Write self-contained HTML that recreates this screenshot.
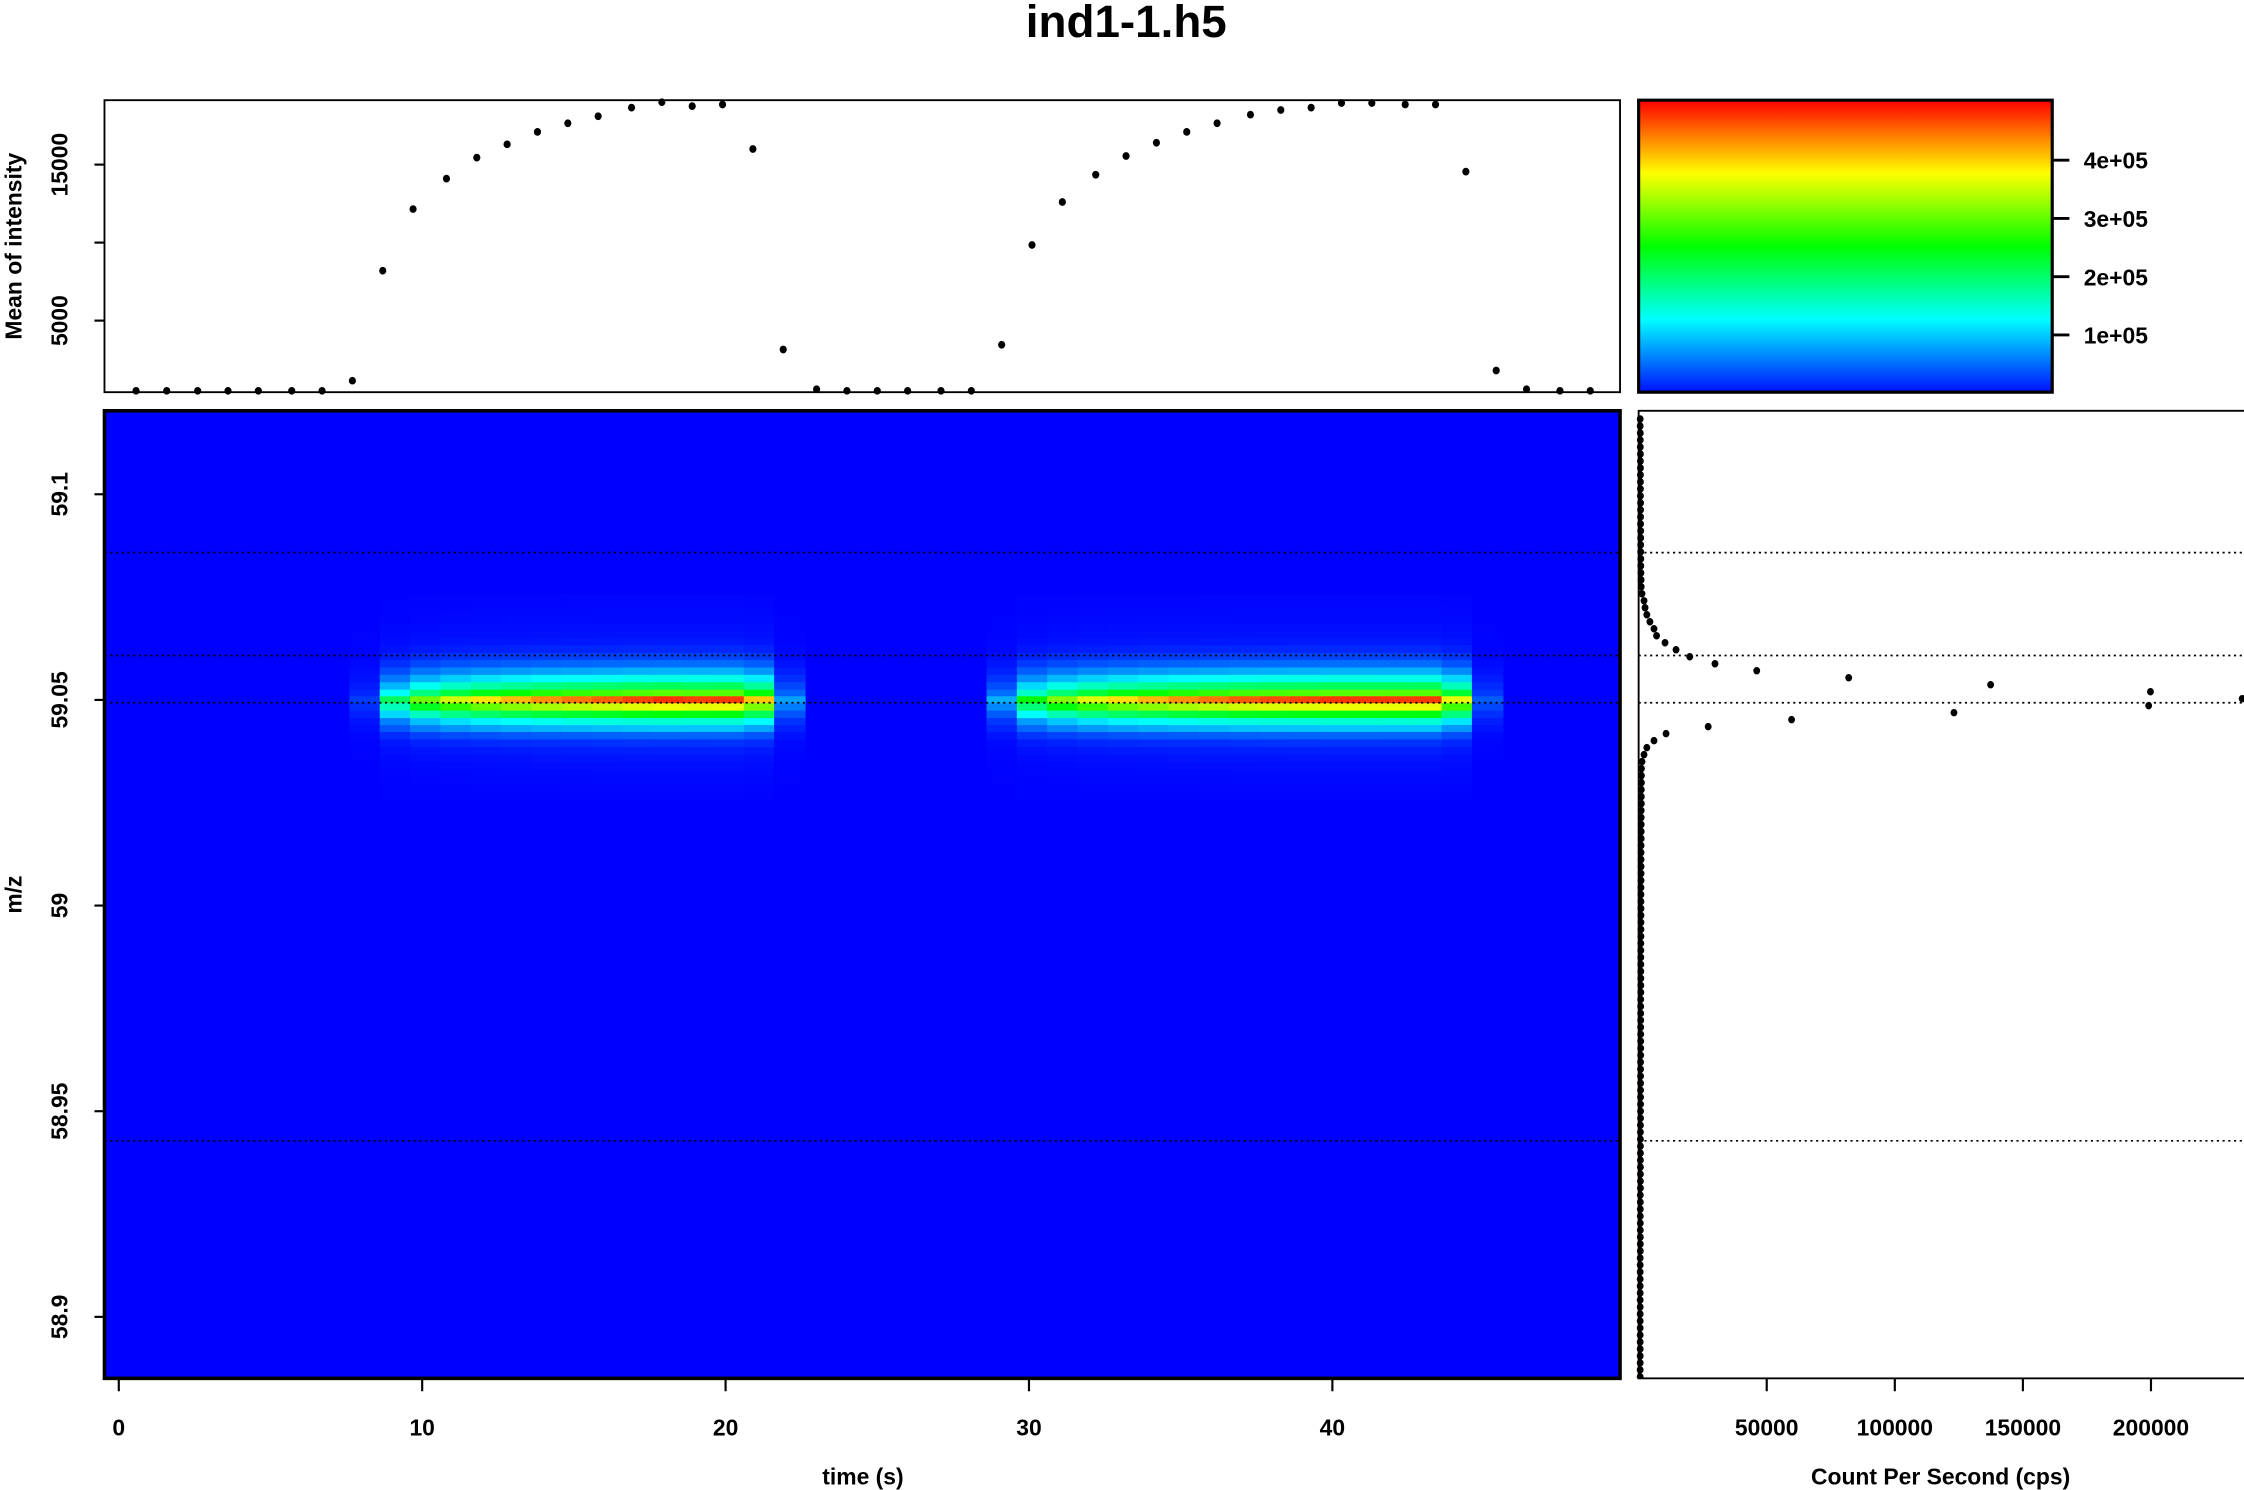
<!DOCTYPE html>
<html><head><meta charset="utf-8"><style>
html,body{margin:0;padding:0;background:#fff;}
svg{display:block;font-family:"Liberation Sans",Arial,sans-serif;font-weight:bold;}
</style></head><body>
<svg id="chart" width="2244" height="1490" viewBox="0 0 1568 1041" preserveAspectRatio="none" xmlns="http://www.w3.org/2000/svg">
<defs>
<linearGradient id="jet" x1="0" y1="1" x2="0" y2="0">
<stop offset="0" stop-color="#0010ff"/><stop offset="0.25" stop-color="#00ffff"/><stop offset="0.5" stop-color="#00ff00"/><stop offset="0.75" stop-color="#ffff00"/><stop offset="1" stop-color="#ff0000"/>
</linearGradient>
<clipPath id="hmclip"><rect x="73" y="287" width="1059" height="676"/></clipPath>
<clipPath id="rpclip"><rect x="1140" y="287" width="430" height="676"/></clipPath>
</defs>
<text x="787" y="26" font-size="32" text-anchor="middle">ind1-1.h5</text>
<g id="topPanel"></g>
<g id="cbar"></g>
<g id="heat"></g>
<g id="spec"></g>
</svg>
<script>
// ---- data ----
const times = [0.57,1.58,2.6,3.6,4.6,5.7,6.7,7.7,8.7,9.7,10.8,11.8,12.8,13.8,14.8,15.8,16.9,17.9,18.9,19.9,20.9,21.9,23.0,24.0,25.0,26.0,27.1,28.1,29.1,30.1,31.1,32.2,33.2,34.2,35.2,36.2,37.3,38.3,39.3,40.3,41.3,42.4,43.4,44.4,45.4,46.4,47.5,48.5];
const heatStart = [0.6,1.6,2.6,3.6,4.6,5.6,6.6,7.6,8.6,9.6,10.6,11.6,12.6,13.6,14.6,15.6,16.6,17.6,18.6,19.6,20.6,21.6,22.6,23.6,24.6,25.6,26.6,27.6,28.6,29.6,30.6,31.6,32.6,33.6,34.6,35.6,36.6,37.6,38.6,39.6,40.6,41.6,42.6,43.6,44.6,45.6,46.6,47.6];
const meanIntensity = [500,500,500,500,500,500,500,1150,8200,12150,14100,15450,16300,17100,17650,18100,18650,19000,18750,18850,16000,3150,600,500,500,500,500,500,3450,9850,12600,14350,15550,16400,17100,17650,18200,18500,18650,18950,18950,18850,18850,14550,1800,600,500,500];
const rowMz = [59.0747,59.0729,59.0711,59.0694,59.0676,59.0658,59.0641,59.0624,59.0605,59.0588,59.0570,59.0552,59.0534,59.0516,59.0500,59.0483,59.0465,59.0447,59.0430,59.0413,59.0395,59.0376,59.0358,59.0340,59.0322,59.0304,59.0286,59.0268];
const rowProfile = [0.005,0.006,0.008,0.01,0.013,0.018,0.025,0.04,0.07,0.11,0.18,0.28,0.42,0.6,0.97,0.75,0.5,0.3,0.2,0.1,0.05,0.03,0.02,0.014,0.01,0.008,0.006,0.005];
const peakCps = 490000;
const dottedMz = [59.0858,59.0608,59.0493,58.9428];
const specCps = [600,600,650,650,650,700,700,700,700,700,700,700,750,750,750,750,800,800,800,800,850,850,900,950,1000,1300,2100,2500,3200,4400,6000,7000,10300,14600,19950,29800,46100,82000,137400,199800,235600,199100,123100,59700,27150,10700,6000,3200,2100,1300,1100,1100,1100,1050,1050,1050,1000,1000,1000,1000,1000,950,950,950,950,950,950,900,900,900,900,900,900,900,900,850,850,850,850,850,850,850,850,800,800,800,800,800,800,800,800,800,750,750,750,750,750,750,750,750,750,700,700,700,700,700,700,700,700,700,700,650,650,650,650,650,650,650,650,650,600,600,600,600,600,600,600,600,600,600,600,600,600,600,600,600,600,600];
const specMzTop = 59.1183, specMzStep = 0.0017;
const xTicks = [0,10,20,30,40];
const mzTicks = [59.1,59.05,59,58.95,58.9];
const mzTickLabels = ["59.1","59.05","59","58.95","58.9"];
const meanTicks = [5000,10000,15000];
const meanTickLabels = ["5000","","15000"];
const cbarTicks = [100000,200000,300000,400000];
const cbarTickLabels = ["1e+05","2e+05","3e+05","4e+05"];
const cpsTicks = [50000,100000,150000,200000];
const cpsTickLabels = ["50000","100000","150000","200000"];

// ---- scales ----
const X = t => 83 + 21.2*t;
const Ymz = m => 489 - (m-59.05)/0.000348;
const Ymean = v => 224 - (v-5000)*0.0109;
const Xcps = v => 1145 + v*0.00179;
const Ycb = v => 274.7 - v*0.000407;
const NS='http://www.w3.org/2000/svg';
function mk(tag, attrs, parent, txt){const e=document.createElementNS(NS,tag);for(const k in attrs)e.setAttribute(k,attrs[k]);if(txt!==undefined)e.textContent=txt;parent.appendChild(e);return e;}
function jet(v){v=Math.max(0,Math.min(1,v));const st=[[0,0,0,255],[0.25,0,255,255],[0.5,0,255,0],[0.75,255,255,0],[1,255,0,0]];
for(let i=0;i<4;i++){if(v<=st[i+1][0]){const f=(v-st[i][0])/(st[i+1][0]-st[i][0]);return 'rgb('+[1,2,3].map(j=>Math.round(st[i][j]+f*(st[i+1][j]-st[i][j]))).join(',')+')';}}return 'rgb(255,0,0)';}

// ---- top panel ----
const topG=document.getElementById('topPanel');
const tfr=mk('rect',{x:73,y:70,width:1059,height:204,fill:'none',stroke:'#000','stroke-width':1.3},topG);


meanTicks.forEach((v,i)=>{const y=Ymean(v);
 const l=mk('line',{x1:66,x2:73,y1:y,y2:y,stroke:'#000','stroke-width':1.5},topG);
 
 
 if(meanTickLabels[i]){const t=mk('text',{x:0,y:0,'font-size':16,'text-anchor':'middle',transform:`translate(47,${y}) rotate(-90)`},topG,meanTickLabels[i]);
 
 }
});
const yl=mk('text',{'font-size':16,'text-anchor':'middle',transform:'translate(15,172) rotate(-90)'},topG,'Mean of intensity');


times.forEach((t,i)=>{const c=mk('ellipse',{cx:X(t),cy:Ymean(meanIntensity[i]),rx:2.5,ry:2.7,fill:'#000'},topG);
 
 });

// ---- colorbar ----
const cbG=document.getElementById('cbar');
const cr=mk('rect',{x:1145,y:70,width:289,height:204,fill:'url(#jet)',stroke:'#000','stroke-width':2.2},cbG);


cbarTicks.forEach((v,i)=>{const y=Ycb(v);
 const l=mk('line',{x1:1434,x2:1446,y1:y,y2:y,stroke:'#000','stroke-width':2},cbG);
 
 
 const t=mk('text',{x:1456,y:y+6,'font-size':16},cbG,cbarTickLabels[i]);
 
 });

// ---- heatmap ----
const hm=document.getElementById('heat');
const hg=mk('g',{'clip-path':'url(#hmclip)'},hm);
const bgr=mk('rect',{x:73,y:287,width:1059,height:676,fill:'#0000ff'},hg);


const maxMean=Math.max(...meanIntensity);
heatStart.forEach((t,i)=>{const x0=X(t),x1=X(t+1);const cs=meanIntensity[i]/maxMean;
 if(cs<0.04)return;
 rowMz.forEach((m,j)=>{const val=cs*rowProfile[j]*peakCps;
  const y0=Ymz(m+0.00089),y1=Ymz(m-0.00089);
  const c=mk('rect',{x:x0,y:y0,width:x1-x0+0.8,height:y1-y0+0.4,fill:jet(val/500000)},hg);
  
  });
});
dottedMz.forEach(m=>{const l=mk('line',{x1:73,x2:1132,y1:Ymz(m),y2:Ymz(m),stroke:'#000','stroke-width':1.2,'stroke-dasharray':'1.5 2.5'},hg);
 
 });
const hf=mk('rect',{x:73,y:287,width:1059,height:676,fill:'none',stroke:'#000','stroke-width':2.5},hm);


xTicks.forEach(v=>{const l=mk('line',{x1:X(v),x2:X(v),y1:963,y2:972,stroke:'#000','stroke-width':1.5},hm);
 
 
 const t=mk('text',{x:X(v),y:1003,'font-size':16,'text-anchor':'middle'},hm,String(v));
 
 });
mzTicks.forEach((v,i)=>{const y=Ymz(v);
 const l=mk('line',{x1:66,x2:73,y1:y,y2:y,stroke:'#000','stroke-width':1.5},hm);
 
 
 const t=mk('text',{'font-size':16,'text-anchor':'middle',transform:`translate(47,${y}) rotate(-90)`},hm,mzTickLabels[i]);
 
 });
const xt=mk('text',{x:603,y:1037,'font-size':16,'text-anchor':'middle'},hm,'time (s)');


const mt=mk('text',{'font-size':16,'text-anchor':'middle',transform:'translate(15,625) rotate(-90)'},hm,'m/z');



// ---- spectrum panel ----
const sp=document.getElementById('spec');
const sfr=mk('rect',{x:1145,y:287,width:500,height:676,fill:'none',stroke:'#000','stroke-width':1.3},sp);


const sg=mk('g',{'clip-path':'url(#rpclip)'},sp);
dottedMz.forEach(m=>{const l=mk('line',{x1:1145,x2:1568,y1:Ymz(m),y2:Ymz(m),stroke:'#000','stroke-width':1.2,'stroke-dasharray':'1.5 2.5'},sg);
 
 });
specCps.forEach((v,i)=>{const m=specMzTop-i*specMzStep;
 const c=mk('ellipse',{cx:Xcps(v),cy:Ymz(m),rx:2.4,ry:2.6,fill:'#000'},sg);
 
 });
cpsTicks.forEach((v,i)=>{const l=mk('line',{x1:Xcps(v),x2:Xcps(v),y1:963,y2:972,stroke:'#000','stroke-width':1.5},sp);
 
 
 const t=mk('text',{x:Xcps(v),y:1003,'font-size':16,'text-anchor':'middle'},sp,cpsTickLabels[i]);
 
 });
const ct=mk('text',{x:1356,y:1037,'font-size':16,'text-anchor':'middle'},sp,'Count Per Second (cps)');


</script>
</body></html>
